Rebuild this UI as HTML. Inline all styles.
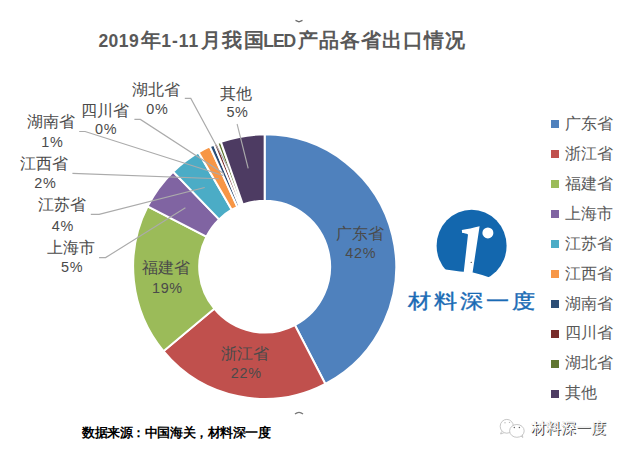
<!DOCTYPE html>
<html><head><meta charset="utf-8"><style>
html,body{margin:0;padding:0;background:#fff;width:625px;height:455px;overflow:hidden;position:relative;font-family:"Liberation Sans",sans-serif}
.t{position:absolute;font-weight:bold;color:#595959;white-space:nowrap}
.tc{top:30px;font-size:20px;line-height:20px;letter-spacing:1px}
.tl{top:32px;font-size:17.5px;line-height:18px}
.lb{position:absolute;width:120px;text-align:center;font-size:15.8px;line-height:15.8px;color:#4a4a4a;white-space:nowrap}
.pc{position:absolute;width:120px;text-align:center;font-size:14.4px;line-height:14.4px;letter-spacing:0.7px;color:#4a4a4a;white-space:nowrap}
.sq{position:absolute;left:551.2px;width:8px;height:8px}
.lg{position:absolute;left:565.3px;font-size:15.8px;line-height:15.8px;color:#595959;white-space:nowrap}
svg{position:absolute;left:0;top:0}
.ft{position:absolute;left:82px;top:425.5px;font-size:13px;letter-spacing:-0.43px;line-height:14px;font-weight:bold;color:#000;white-space:nowrap}
.logo{position:absolute;left:407.5px;top:289px;font-size:23px;line-height:24px;color:#1A6BB5;-webkit-text-stroke:0.4px #1A6BB5;letter-spacing:2.6px;white-space:nowrap;transform:scale(1.02,0.88);transform-origin:0 50%}
.wm{position:absolute;left:531px;top:420px;font-size:15px;line-height:16px;color:#fff;white-space:nowrap;text-shadow:0.8px 0.6px 0.5px #333,-0.3px -0.3px 0.5px #bbb}
</style></head><body>
<svg width="625" height="455" viewBox="0 0 625 455">
<g stroke="#fff" stroke-width="2" stroke-linejoin="miter" transform="translate(264.65,266.65) scale(1,1.006) translate(-264.65,-266.65)">
<path d="M264.65,135.15 A131.5,131.5 0 0 1 325.37,383.29 L294.87,324.70 A65.45,65.45 0 0 0 264.65,201.20 Z" fill="#4F81BD"/>
<path d="M325.37,383.29 A131.5,131.5 0 0 1 163.47,350.65 L214.29,308.46 A65.45,65.45 0 0 0 294.87,324.70 Z" fill="#C0504D"/>
<path d="M163.47,350.65 A131.5,131.5 0 0 1 147.64,206.64 L206.41,236.78 A65.45,65.45 0 0 0 214.29,308.46 Z" fill="#9BBB59"/>
<path d="M147.64,206.64 A131.5,131.5 0 0 1 173.14,172.22 L219.10,219.65 A65.45,65.45 0 0 0 206.41,236.78 Z" fill="#8064A2"/>
<path d="M173.14,172.22 A131.5,131.5 0 0 1 198.50,153.00 L231.73,210.08 A65.45,65.45 0 0 0 219.10,219.65 Z" fill="#4BACC6"/>
<path d="M198.50,153.00 A131.5,131.5 0 0 1 209.80,147.13 L237.35,207.16 A65.45,65.45 0 0 0 231.73,210.08 Z" fill="#F79646"/>
<path d="M209.80,147.13 A131.5,131.5 0 0 1 214.01,145.29 L239.45,206.25 A65.45,65.45 0 0 0 237.35,207.16 Z" fill="#2C4D75"/>
<path d="M214.01,145.29 A131.5,131.5 0 0 1 217.42,143.93 L241.14,205.57 A65.45,65.45 0 0 0 239.45,206.25 Z" fill="#772C2A"/>
<path d="M217.42,143.93 A131.5,131.5 0 0 1 220.86,142.65 L242.86,204.94 A65.45,65.45 0 0 0 241.14,205.57 Z" fill="#5F7530"/>
<path d="M220.86,142.65 A131.5,131.5 0 0 1 264.65,135.15 L264.65,201.20 A65.45,65.45 0 0 0 242.86,204.94 Z" fill="#4D3B62"/>
</g>
<polyline points="99.1,257.6 105.6,257.6 185.4,207.7" fill="none" stroke="#ABABAB" stroke-width="1.15"/>
<polyline points="90.8,214.4 99.1,214.4 204.7,187.5" fill="none" stroke="#ABABAB" stroke-width="1.15"/>
<polyline points="72.4,173.4 218.8,178.7" fill="none" stroke="#ABABAB" stroke-width="1.15"/>
<polyline points="79.2,131.5 85.1,131.5 223.2,175.5" fill="none" stroke="#ABABAB" stroke-width="1.15"/>
<polyline points="134.4,119.4 140.4,119.4 224.0,173.7" fill="none" stroke="#ABABAB" stroke-width="1.15"/>
<polyline points="184.8,98.4 190.8,98.4 229.5,170.0" fill="none" stroke="#ABABAB" stroke-width="1.15"/>
<polyline points="237.1,124.0 248.2,168.4" fill="none" stroke="#ABABAB" stroke-width="1.15"/>

<defs><clipPath id="cut"><path d="M430,200 L515,200 L515,283 L490.4,277.7 Q481,274.6 473,272.6 L460,271.6 L444,269.2 L430,266.5 Z"/></clipPath></defs>
<ellipse cx="471.6" cy="245.8" rx="35" ry="36" fill="#1367AE" clip-path="url(#cut)"/>
<path d="M461.8,230.1 C466.5,229.2 474,227.6 479.6,226.2 L472.2,275 L463.4,275 L468.0,234.6 C466.3,233.6 464.2,233.1 462.2,233.1 Z" fill="#fff"/>
<circle cx="487.9" cy="232.9" r="5.5" fill="#fff"/>
<circle cx="471.2" cy="262.3" r="0.6" fill="#222"/>


<path d="M295.5,20.4 L299,21.9 L302.5,20.4" fill="none" stroke="#6a6a6a" stroke-width="1.3"/>
<path d="M295,414 Q299,410.6 303,414" fill="none" stroke="#777" stroke-width="1.3"/>


<g fill="#fff" stroke="#b8b8b8" stroke-width="0.8">
<ellipse cx="506.8" cy="426.3" rx="6.6" ry="6.9"/>
<path d="M501.5,431.5 L500.6,434 L504.2,432.6" />
<ellipse cx="516.9" cy="430.9" rx="7.3" ry="6.4"/>
<path d="M521,436 L522.8,437.5 L522.3,434.8"/>
</g>
<g fill="#666"><circle cx="514.3" cy="427.5" r="0.75"/><circle cx="519.4" cy="427.5" r="0.75"/></g>
<g fill="#bbb"><circle cx="505" cy="422.8" r="0.7"/><circle cx="509.5" cy="422.4" r="0.7"/></g>

</svg>
<div class="t tl" style="left:98.4px;letter-spacing:0.45px">2019</div><div class="t tc" style="left:140.6px">年</div><div class="t tl" style="left:161.2px;letter-spacing:1px">1-11</div><div class="t tc" style="left:200.8px;letter-spacing:1.6px">月我国</div><div class="t tl" style="left:263.2px;letter-spacing:-1px">LED</div><div class="t tc" style="left:297.6px">产品各省出口情况</div>
<div class="lb" style="left:10.9px;top:239.7px">上海市</div><div class="pc" style="left:12.2px;top:260.3px">5%</div>
<div class="lb" style="left:1.5px;top:196.7px">江苏省</div><div class="pc" style="left:2.8px;top:218.7px">4%</div>
<div class="lb" style="left:-15.9px;top:156.0px">江西省</div><div class="pc" style="left:-14.6px;top:175.7px">2%</div>
<div class="lb" style="left:-9.0px;top:114.2px">湖南省</div><div class="pc" style="left:-7.7px;top:135.3px">1%</div>
<div class="lb" style="left:44.8px;top:103.4px">四川省</div><div class="pc" style="left:46.1px;top:122.4px">0%</div>
<div class="lb" style="left:96.0px;top:82.2px">湖北省</div><div class="pc" style="left:97.3px;top:101.6px">0%</div>
<div class="lb" style="left:176.2px;top:86.0px">其他</div><div class="pc" style="left:177.5px;top:105.2px">5%</div>
<div class="lb" style="left:299.5px;top:225.7px">广东省</div><div class="pc" style="left:300.8px;top:246.0px">42%</div>
<div class="lb" style="left:184.9px;top:346.0px">浙江省</div><div class="pc" style="left:186.2px;top:366.2px">22%</div>
<div class="lb" style="left:106.1px;top:259.7px">福建省</div><div class="pc" style="left:107.4px;top:281.1px">19%</div>
<div class="sq" style="top:120.4px;background:#4F81BD"></div><div class="lg" style="top:116.1px">广东省</div><div class="sq" style="top:150.3px;background:#C0504D"></div><div class="lg" style="top:146.0px">浙江省</div><div class="sq" style="top:180.2px;background:#9BBB59"></div><div class="lg" style="top:175.9px">福建省</div><div class="sq" style="top:210.1px;background:#8064A2"></div><div class="lg" style="top:205.8px">上海市</div><div class="sq" style="top:240.0px;background:#4BACC6"></div><div class="lg" style="top:235.7px">江苏省</div><div class="sq" style="top:269.9px;background:#F79646"></div><div class="lg" style="top:265.6px">江西省</div><div class="sq" style="top:299.8px;background:#2C4D75"></div><div class="lg" style="top:295.5px">湖南省</div><div class="sq" style="top:329.7px;background:#772C2A"></div><div class="lg" style="top:325.4px">四川省</div><div class="sq" style="top:359.6px;background:#5F7530"></div><div class="lg" style="top:355.3px">湖北省</div><div class="sq" style="top:389.5px;background:#4D3B62"></div><div class="lg" style="top:385.2px">其他</div>
<div class="logo">材料深一度</div>
<div class="ft">数据来源：中国海关，材料深一度</div>
<div class="wm">材料深一度</div>
</body></html>
